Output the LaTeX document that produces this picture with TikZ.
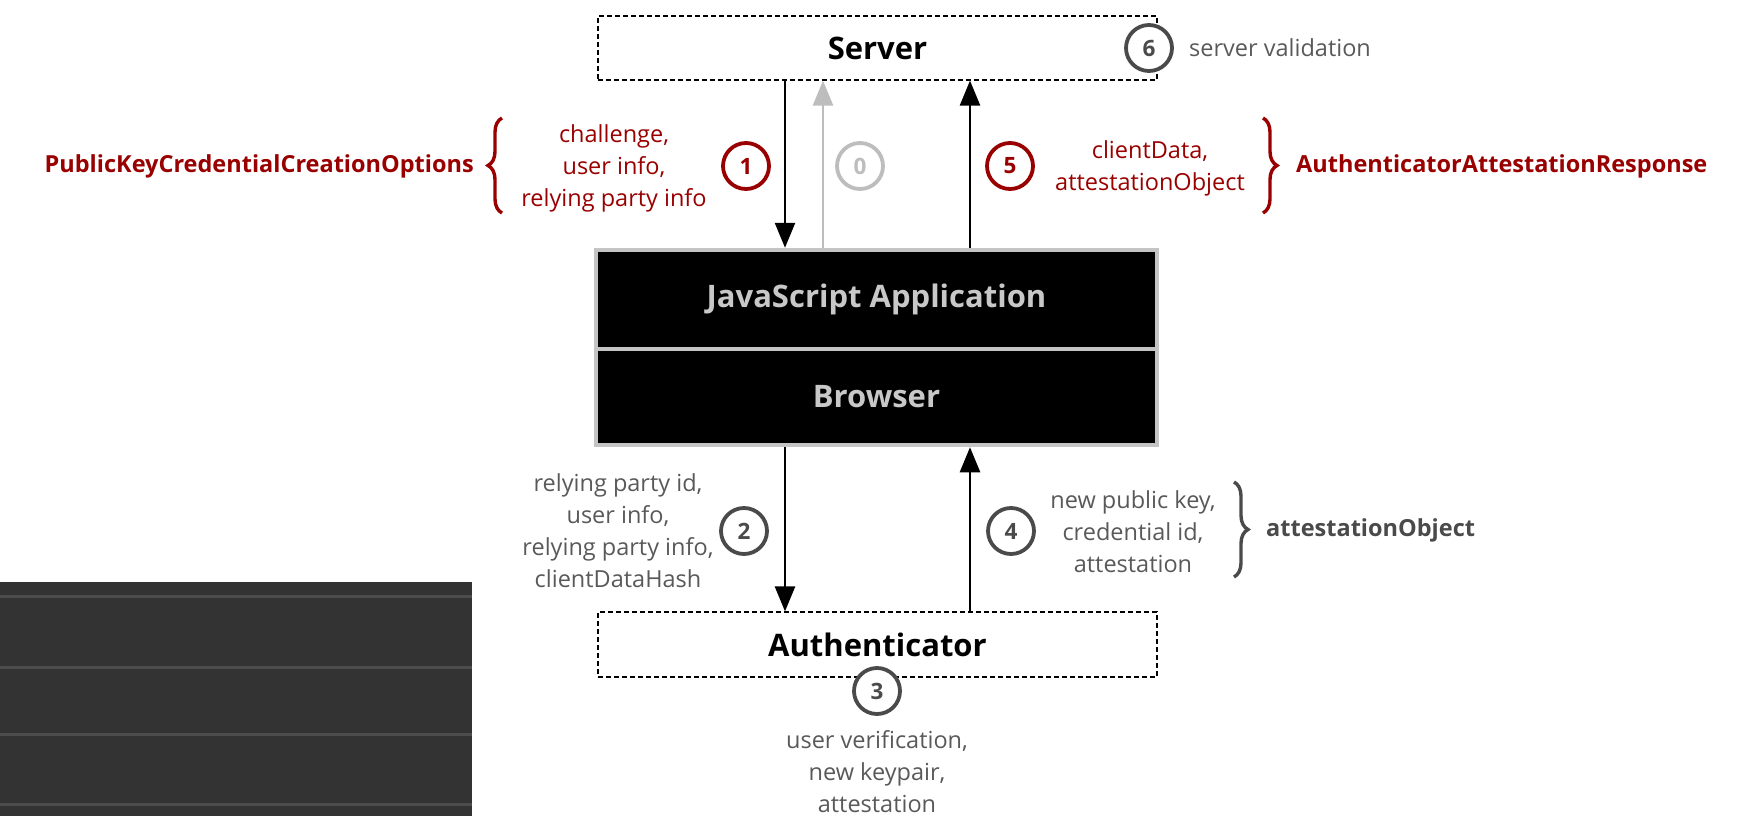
\documentclass[tikz,border=0pt]{standalone}
\usepackage{fontspec}
\setmainfont{Open Sans}
\usetikzlibrary{arrows.meta,decorations.pathreplacing}
\definecolor{dred}{HTML}{990000}
\definecolor{lgray}{HTML}{595959}
\definecolor{cgray}{HTML}{4A4A4A}
\definecolor{pale}{HTML}{BDBDBD}
\definecolor{boxgray}{HTML}{C4C4C4}
\definecolor{apptext}{HTML}{C8C8C8}
\definecolor{panel}{HTML}{333333}
\definecolor{panelline}{HTML}{4D4D4D}
\begin{document}
\begin{tikzpicture}[x=1pt,y=-1pt,
  lbl/.style={font=\fontsize{23.5}{32}\selectfont, align=center, inner sep=0pt},
  bigbold/.style={font=\fontsize{23.5}{32}\selectfont\bfseries, inner sep=0pt},
  num/.style={circle, draw, line width=3.8pt, minimum size=46pt, inner sep=0pt, fill=white, font=\fontsize{22.5}{22.5}\selectfont\bfseries},
  arr/.style={line width=2.6pt, -{Triangle[length=25pt,width=20pt]}},
  dbox/.style={draw, dashed, dash pattern=on 5pt off 3pt, line width=1.2pt, minimum width=559pt, inner sep=0pt, font=\fontsize{31}{31}\selectfont\bfseries},
  appbox/.style={draw=boxgray, fill=black, line width=4.5pt, minimum width=561pt, inner sep=0pt, text=apptext, font=\fontsize{31}{31}\selectfont\bfseries},
  brc/.style={decorate, decoration={brace, amplitude=14pt}, line width=3.4pt}
]
\useasboundingbox (0,0) rectangle (1757,816);

% bottom-left dark panel
\fill[panel] (0,582) rectangle (472,816);
\foreach \yy in {596,667,734,804}{
  \draw[panelline, line width=3pt] (0,\yy) -- (472,\yy);
}

% boxes
\node[dbox, minimum height=64pt] (server) at (877.5,48) {\raisebox{-1pt}{Server}};
\node[dbox, minimum height=65pt] (auth) at (877.5,644.5) {Authenticator};
\node[appbox, minimum height=99pt] (js) at (876.5,299.5) {JavaScript Application};
\node[appbox, minimum height=96pt] (br) at (876.5,397) {Browser};

% arrow x positions
\coordinate (x1) at (785,0);
\coordinate (x0) at (823,0);
\coordinate (x5) at (970,0);

\draw[arr] (server.south -| x1) -- (js.north -| x1);
\draw[arr, pale] (js.north -| x0) -- (server.south -| x0);
\draw[arr] (js.north -| x5) -- (server.south -| x5);
\draw[arr] (br.south -| x1) -- (auth.north -| x1);
\draw[arr] (auth.north -| x5) -- (br.south -| x5);

% numbered circles
\node[num, draw=cgray, text=cgray] (n6) at (1149,48) {6};
\node[num, draw=dred, text=dred] (n1) at (746,166) {1};
\node[num, draw=pale, text=pale] (n0) at (860,166) {0};
\node[num, draw=dred, text=dred] (n5) at (1010,166) {5};
\node[num, draw=cgray, text=cgray] (n2) at (744,531) {2};
\node[num, draw=cgray, text=cgray] (n4) at (1011,531) {4};
\node[num, draw=cgray, text=cgray] (n3) at (877,691) {3};

% labels
\node[lbl, text=lgray, anchor=west] (sv) at (1189,48) {server validation};
\node[lbl, text=dred] (l1) at (614,168) {challenge,\\user info,\\relying party info};
\node[lbl, text=dred] (l5) at (1150,168) {clientData,\\attestationObject};
\node[lbl, text=lgray] (l2) at (618,531) {relying party id,\\user info,\\relying party info,\\clientDataHash};
\node[lbl, text=lgray] (l4) at (1133,532) {new public key,\\credential id,\\attestation};
\node[lbl, text=lgray] (l3) at (877,772) {user verification,\\new keypair,\\attestation};

\node[bigbold, text=dred, anchor=east] (pk) at (474,166) {PublicKeyCredentialCreationOptions};
\node[bigbold, text=dred, anchor=west] (aar) at (1296,166) {AuthenticatorAttestationResponse};
\node[bigbold, text=cgray, anchor=west] (ao) at (1266,530) {attestationObject};

% braces
\draw[brc, dred] (502,213) -- (502,118);
\draw[brc, dred] (1263,118) -- (1263,213);
\draw[brc, cgray] (1234,482) -- (1234,577);
\end{tikzpicture}
\end{document}
